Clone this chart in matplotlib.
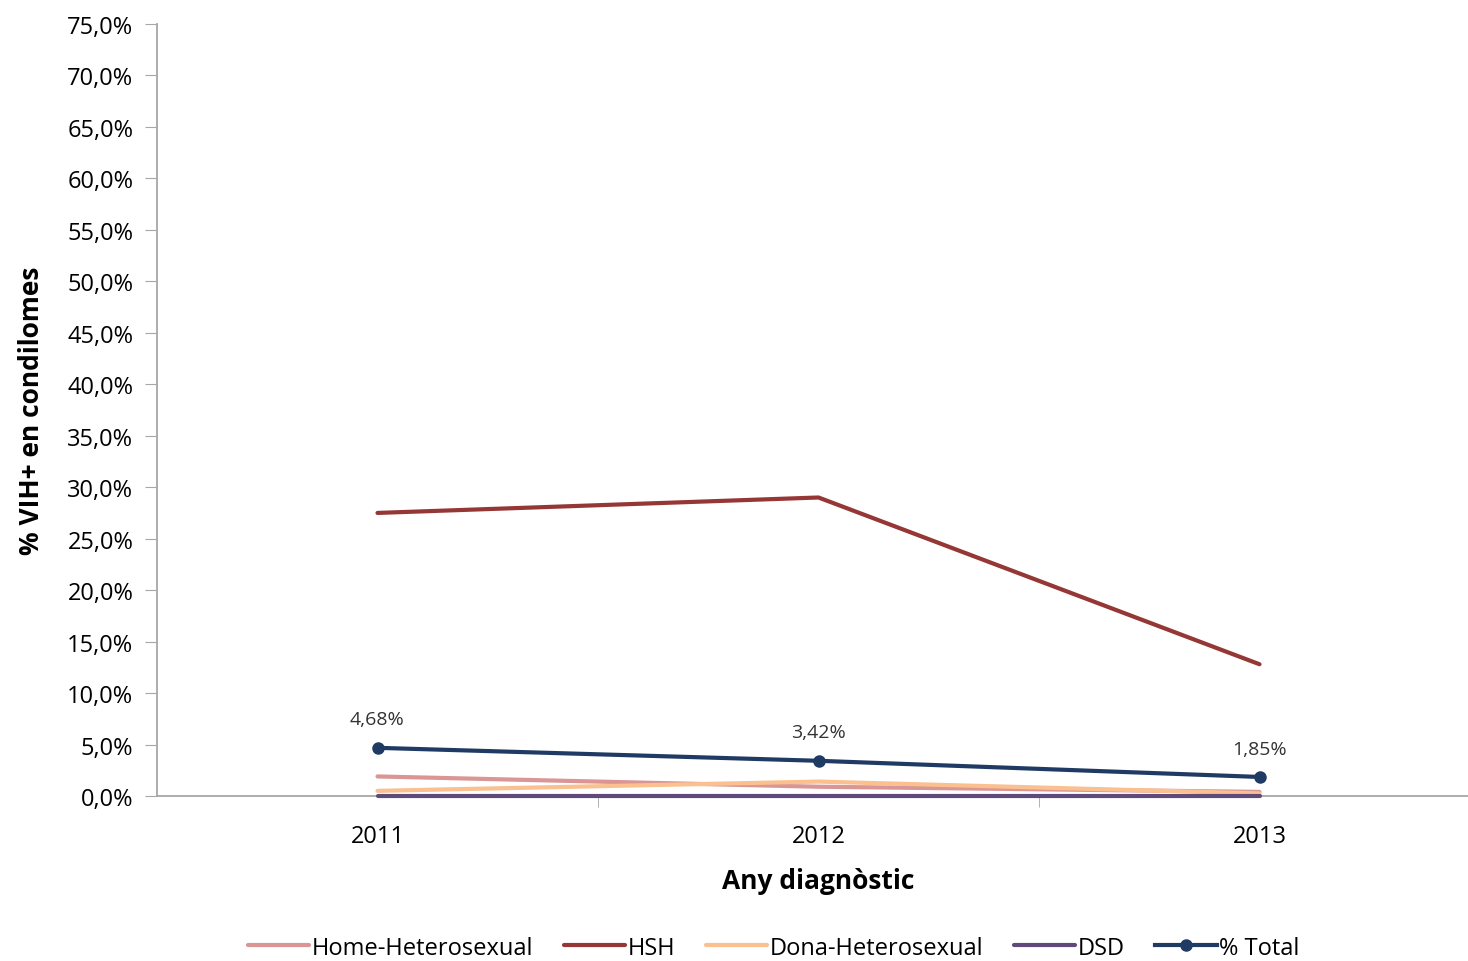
import matplotlib.pyplot as plt
import numpy as np

# data
years = ['2011', '2012', '2013']
home_het = [1.9, 0.9, 0.4]
hsh = [27.5, 29.0, 12.8]
dona_het = [0.5, 1.4, 0.25]
dsd = [0.0, 0.0, 0.0]
total = [4.68, 3.42, 1.85]
total_labels = ['4,68%', '3,42%', '1,85%']

plt.rcParams['font.family'] = ['Open Sans', 'DejaVu Sans']

fig = plt.figure(figsize=(14.68, 9.62), dpi=100)
ax = fig.add_axes([157 / 1468, 165 / 962, 1323 / 1468, 772 / 962])

x = np.arange(len(years))
lw = 3.0
ax.plot(x, home_het, color='#D99694', lw=lw, label='Home-Heterosexual', solid_capstyle='round')
ax.plot(x, hsh, color='#953735', lw=lw, label='HSH', solid_capstyle='round')
ax.plot(x, dona_het, color='#FAC090', lw=lw, label='Dona-Heterosexual', solid_capstyle='round')
ax.plot(x, dsd, color='#604A7B', lw=lw, label='DSD', solid_capstyle='round', clip_on=False, zorder=5)
ax.plot(x, total, color='#1F3B63', lw=lw, marker='o', ms=8, label='% Total', zorder=6)

for xi, v, lab in zip(x, total, total_labels):
    ax.annotate(lab, (xi, v), xytext=(0, 14), textcoords='offset points',
                ha='center', va='bottom', fontsize=14, color='#333333')

ax.set_xlim(-0.5, 2.5)
ax.set_ylim(0, 75)
ax.set_yticks(np.arange(0, 76, 5))
ax.set_yticklabels([('%.1f%%' % v).replace('.', ',') for v in np.arange(0, 76, 5)])
ax.set_xticks(x)
ax.set_xticklabels(years)
ax.set_xticks([0.5, 1.5], minor=True)
ax.tick_params(axis='x', which='major', length=0, pad=20, labelsize=17)
ax.tick_params(axis='x', which='minor', length=8, color='#A6A6A6')
ax.tick_params(axis='y', length=9, color='#A6A6A6', labelsize=17, pad=8)

for s in ['top', 'right']:
    ax.spines[s].set_visible(False)
for s in ['left', 'bottom']:
    ax.spines[s].set_color('#A6A6A6')
    ax.spines[s].set_linewidth(1.3)

ax.set_xlabel('Any diagnòstic', fontsize=19, fontweight='bold', labelpad=14)
ax.set_ylabel('% VIH+ en condilomes', fontsize=19, fontweight='bold', labelpad=16)

fig.legend(loc='center', bbox_to_anchor=(0.527, 0.014), ncol=5, frameon=False,
           fontsize=17, handlelength=2.6, handletextpad=0.1, columnspacing=1.3)

fig.savefig('out.png', dpi=100)
